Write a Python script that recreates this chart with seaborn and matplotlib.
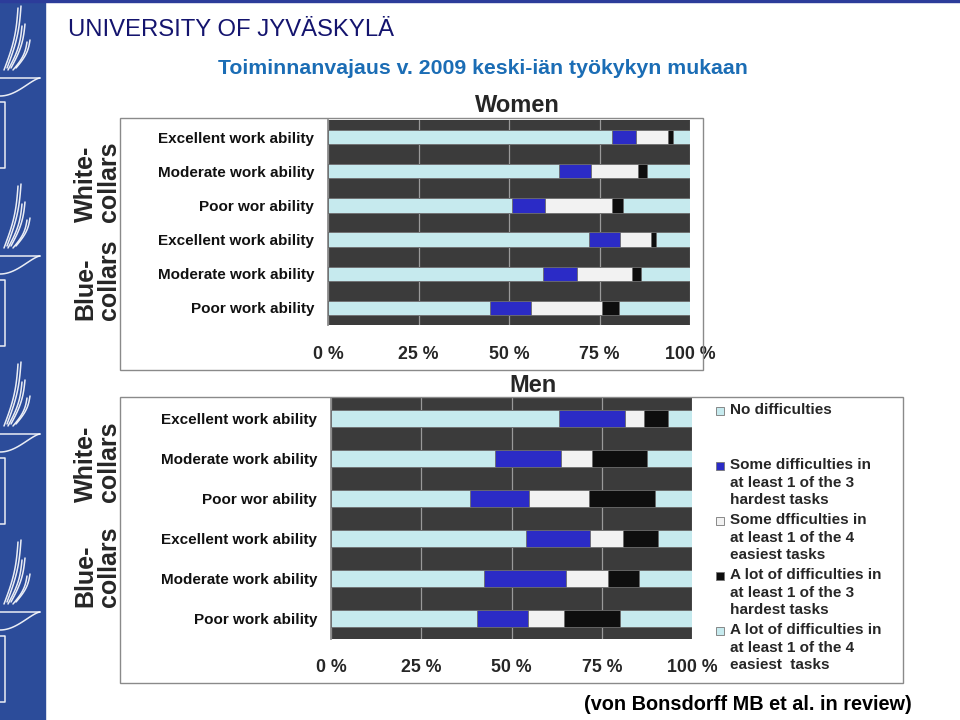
import numpy as np
import pandas as pd
import seaborn as sns
import matplotlib.pyplot as plt
from matplotlib.patches import Rectangle
from matplotlib.lines import Line2D

sns.set_theme(style="white")
plt.rcParams['font.family'] = ['Liberation Sans', 'DejaVu Sans']

# rows, top to bottom: white-collars (3), blue-collars (3)
row_keys = ["wc_exc", "wc_mod", "wc_poor", "bc_exc", "bc_mod", "bc_poor"]
row_labels = ["Excellent work ability", "Moderate work ability", "Poor wor ability",
              "Excellent work ability", "Moderate work ability", "Poor work ability"]

segments = ["No difficulties",
            "Some difficulties in\nat least 1 of the 3\nhardest tasks",
            "Some dfficulties in\nat least 1 of the 4\neasiest tasks",
            "A lot of difficulties in\nat least 1 of the 3\nhardest tasks",
            "A lot of difficulties in\nat least 1 of the 4\neasiest  tasks"]
seg_colors = ["#c6eaee", "#2b2bc6", "#f2f2f2", "#0e0e0e", "#c6eaee"]

# percentages per segment
women_no_diff = [78.5, 63.8, 50.7, 72.0, 59.3, 44.8]
women_some_hard = [6.5, 8.8, 9.2, 8.7, 9.4, 11.2]
women_some_easy = [9.0, 13.1, 18.5, 8.4, 15.2, 19.8]
women_lot_hard = [1.4, 2.3, 3.2, 1.4, 2.5, 4.6]
women_lot_easy = [4.6, 12.0, 18.4, 9.5, 13.6, 19.6]

men_no_diff = [63.2, 45.3, 38.5, 54.0, 42.3, 40.5]
men_some_hard = [18.3, 18.4, 16.3, 17.7, 22.8, 14.0]
men_some_easy = [5.1, 8.7, 16.6, 9.1, 11.5, 10.1]
men_lot_hard = [6.8, 15.1, 18.4, 9.7, 8.8, 15.4]
men_lot_easy = [6.7, 12.4, 10.2, 9.5, 14.6, 20.0]

x_ticks = [0, 25, 50, 75, 100]
x_tick_labels = ["0 %", "25 %", "50 %", "75 %", "100 %"]

fig = plt.figure(figsize=(9.6, 7.2), dpi=100)
W, H = 960, 720


def fx(px):
    return px / W


def fy(py):
    return 1 - py / H


# slide decoration: blue band with the flame logo
fig.patches.append(Rectangle((0, 0), fx(45), 1, transform=fig.transFigure,
                             color="#2c4c9a", zorder=0))
fig.patches.append(Rectangle((0, fy(2)), 1, 2 / H, transform=fig.transFigure,
                             color="#2c3c9a", zorder=0))


def deco_line(xs, ys, lw=1.1):
    fig.lines.append(Line2D([fx(v) for v in xs], [fy(v) for v in ys],
                            transform=fig.transFigure, color="white", lw=lw, alpha=0.9))


t = np.linspace(0, 1, 30)
for bowl in [78, 256, 434, 612]:
    # flames
    for k, (x0, top) in enumerate([(4, 70), (8, 52), (13, 36)]):
        xs = x0 + 14 * t + 3 * np.sin(np.pi * t)
        ys = bowl - 8 - (top - 8) * t
        deco_line(xs, ys)
        deco_line(xs + 3, ys - 2)
    # bowl
    deco_line([0, 40], [bowl, bowl])
    deco_line(40 * t, bowl + 18 * np.sin(np.pi * (1 - t) / 2) ** 0.5 * (1 - t ** 2))
    # stand
    deco_line([0, 5, 5, 0], [bowl + 24, bowl + 24, bowl + 90, bowl + 90])

fig.text(fx(68), fy(30), "UNIVERSITY OF JYVÄSKYLÄ", fontsize=17.2, color="#14146e",
         va="center", ha="left")
fig.text(fx(483), fy(68), "Toiminnanvajaus v. 2009 keski-iän työkykyn mukaan",
         fontsize=15.3, color="#1b6db5", fontweight="bold", va="center", ha="center")
fig.text(fx(912), fy(704), "(von Bonsdorff MB et al. in review)", fontsize=14.3,
         fontweight="bold", ha="right", va="center", color="black")


def stacked(ax, parts, pad):
    df = pd.DataFrame({"row": row_keys})
    cum = np.cumsum(np.array(parts), axis=0)
    for k in range(len(parts) - 1, -1, -1):
        df["val"] = cum[k]
        sns.barplot(data=df, x="val", y="row", orient="h", color=seg_colors[k],
                    width=0.42, edgecolor="#6a6a6a", linewidth=0.6,
                    saturation=1, ax=ax, zorder=3)
    ax.set_facecolor("#3b3b3b")
    ax.set_xlim(0, 100)
    ax.set_ylim(5.5, -0.5)
    ax.set_xticks(x_ticks)
    ax.set_xticklabels(x_tick_labels, fontsize=12.8, fontweight="bold")
    ax.tick_params(axis="x", length=0, pad=pad)
    ax.set_yticks(range(6))
    ax.set_yticklabels(row_labels, fontsize=11, fontweight="bold", color="#111111")
    ax.tick_params(axis="y", length=0, pad=10)
    ax.set_yticks(np.arange(-0.5, 6, 1), minor=True)
    ax.tick_params(axis="y", which="minor", length=5, color="#888888", width=0.8)
    ax.grid(axis="x", color="#9a9a9a", linewidth=0.9, zorder=1)
    ax.set_axisbelow(True)
    ax.set_xlabel("")
    ax.set_ylabel("")
    for s in ax.spines.values():
        s.set_visible(False)
    ax.spines["left"].set_visible(True)
    ax.spines["left"].set_color("#888888")


def frame(x0, y0, x1, y1):
    fig.patches.append(Rectangle((fx(x0), fy(y1)), fx(x1 - x0), (y1 - y0) / H,
                                 transform=fig.transFigure, fill=False,
                                 edgecolor="#8a8a8a", linewidth=1.0, zorder=0))


def side_labels(xpos, y_white, y_blue):
    for txt, y in [("White-\ncollars", y_white), ("Blue-\ncollars", y_blue)]:
        fig.text(fx(xpos), fy(y), txt, rotation=90, fontsize=18,
                 fontweight="bold", ha="center", va="bottom", multialignment="left",
                 linespacing=0.95)


# Women
frame(120, 118, 703, 370)
ax_w = fig.add_axes([fx(328), fy(325), fx(690 - 328), (325 - 120) / H])
stacked(ax_w, [women_no_diff, women_some_hard, women_some_easy, women_lot_hard, women_lot_easy], 15)
fig.text(fx(517), fy(106), "Women", fontsize=17, fontweight="bold", ha="center", va="center")
side_labels(97, 222, 320)

# Men
frame(120, 397, 903, 683)
ax_m = fig.add_axes([fx(331), fy(639), fx(692 - 331), (639 - 398) / H])
stacked(ax_m, [men_no_diff, men_some_hard, men_some_easy, men_lot_hard, men_lot_easy], 14.5)
fig.text(fx(533), fy(386), "Men", fontsize=17, fontweight="bold", ha="center", va="center")
side_labels(97, 502, 607)

# legend
leg_y = [411, 466, 521, 576, 631]
for name, col, y in zip(segments, seg_colors, leg_y):
    fig.patches.append(Rectangle((fx(716), fy(y + 4)), fx(8), 8 / H,
                                 transform=fig.transFigure, facecolor=col,
                                 edgecolor="#777777", linewidth=0.6))
    fig.text(fx(730), fy(y - 8), name, fontsize=11, fontweight="bold",
             ha="left", va="top", linespacing=1.32)

fig.savefig("out.png", dpi=100)
